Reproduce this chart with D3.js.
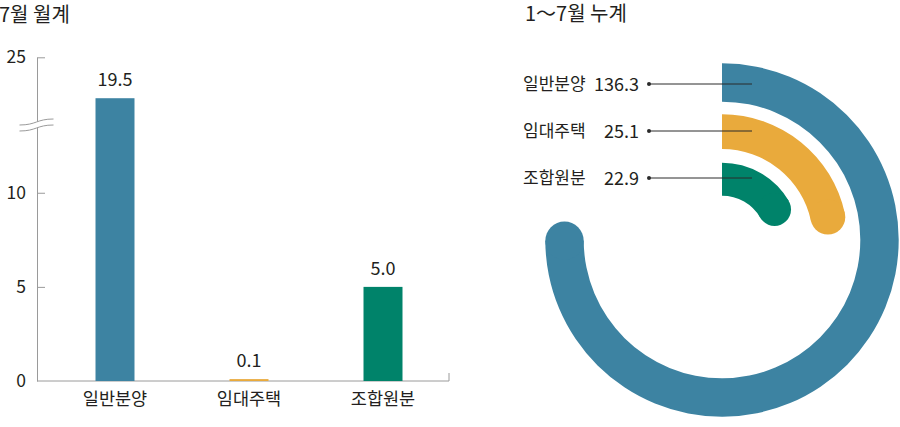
<!DOCTYPE html>
<html>
<head>
<meta charset="UTF-8">
<script src="https://cdnjs.cloudflare.com/ajax/libs/d3/7.8.5/d3.min.js"></script>
<style>
  body { margin: 0; background: #fff; }
  svg text { font-family: "Noto Sans CJK KR", "Noto Sans", sans-serif; fill: #231f20; }
  .axis path, .axis line { stroke: #9a9a9a; }
</style>
</head>
<body>
<svg id="chart" width="900" height="427"></svg>
<script>
// data
var categories = ["일반분양", "임대주택", "조합원분"];
var monthly = [19.5, 0.1, 5.0];       // 7월 월계
var cumulative = [136.3, 25.1, 22.9]; // 1~7월 누계
var yTicks = [0, 5, 10, 25];
var colors = ["#3d83a2", "#e9aa3c", "#00836a"];

var svg = d3.select("#chart");
var fmt = d3.format(".1f");

// ---- left: monthly bars with a broken y axis ----
var x0 = 37, x1 = 449, yBase = 381, yTop = 57.3, yBreakPx = 125;
var yBreak = [13.6, 15.9];

var y = d3.scaleLinear()
  .domain([0, yBreak[0], yBreak[1], 25])
  .range([yBase, yBreakPx, yBreakPx, yTop]);

var x = d3.scaleBand()
  .domain(categories)
  .range([48, 450])
  .paddingInner(0.709)
  .paddingOuter(0.3545);

svg.append("text")
  .attr("x", -1).attr("y", 22)
  .style("font-size", "20px")
  .text("7월 월계");

var yAxis = svg.append("g")
  .attr("class", "axis")
  .attr("transform", "translate(" + x0 + ",0)")
  .call(d3.axisLeft(y).tickValues(yTicks).tickSize(-8).tickSizeOuter(0).tickPadding(11));
yAxis.selectAll(".tick text").style("font-size", "17.5px").style("fill", "#231f20");
yAxis.selectAll(".tick").filter(function(d) { return d === 0; }).select("line").remove();

// x baseline + end tick
svg.append("path")
  .attr("d", "M" + x0 + "," + yBase + "H" + x1 + "V" + (yBase - 8))
  .attr("fill", "none")
  .attr("stroke", "#9a9a9a");

// axis break mark
var brk = svg.append("g").attr("transform", "translate(19.5," + yBreakPx + ")");
brk.append("path")
  .attr("d", "M0,0 C17,0 17,-6 34,-6 L34,0 C17,0 17,6 0,6 Z")
  .attr("fill", "#fff");
[-3, 3].forEach(function(o) {
  brk.append("path")
    .attr("d", "M0," + (o + 3) + " C17," + (o + 3) + " 17," + (o - 3) + " 34," + (o - 3))
    .attr("fill", "none")
    .attr("stroke", "#9a9a9a");
});

svg.selectAll(".bar")
  .data(monthly)
  .enter().append("rect")
  .attr("class", "bar")
  .attr("x", function(d, i) { return x(categories[i]); })
  .attr("width", x.bandwidth())
  .attr("y", function(d) { return y(d); })
  .attr("height", function(d) { return yBase - y(d); })
  .attr("fill", function(d, i) { return colors[i]; });

svg.selectAll(".val")
  .data(monthly)
  .enter().append("text")
  .attr("class", "val")
  .attr("x", function(d, i) { return x(categories[i]) + x.bandwidth() / 2; })
  .attr("y", function(d) { return y(d) - 12; })
  .attr("text-anchor", "middle")
  .style("font-size", "18px")
  .text(function(d) { return fmt(d); });

svg.append("g")
  .attr("transform", "translate(0," + yBase + ")")
  .call(d3.axisBottom(x).tickSize(0).tickPadding(12))
  .call(function(g) { g.select(".domain").remove(); })
  .selectAll("text")
  .style("font-size", "17.5px")
  .style("fill", "#231f20");

// ---- right: cumulative radial bars ----
var cx = 722, cy = 240;
var ringInner = [138.3, 91, 44.3];
var ringOuter = [176.7, 125.7, 77.3];

// broken angular scale (degrees)
var angle = d3.scaleLinear()
  .domain([0, 20, 30, 140])
  .range([0, 36, 118, 275]);
var rad = function(v) { return angle(v) * Math.PI / 180; };

var row = d3.scalePoint().domain(categories).range([84, 178]);

svg.append("text")
  .attr("x", 525).attr("y", 21)
  .style("font-size", "20px")
  .text("1〜7월 누계");

var rg = svg.append("g").attr("transform", "translate(" + cx + "," + cy + ")");
var arc = d3.arc();

cumulative.forEach(function(v, i) {
  var a = rad(v);
  var mid = (ringInner[i] + ringOuter[i]) / 2;
  rg.append("path")
    .attr("d", arc({ innerRadius: ringInner[i], outerRadius: ringOuter[i], startAngle: 0, endAngle: a }))
    .attr("fill", colors[i]);
  rg.append("circle")
    .attr("cx", mid * Math.sin(a))
    .attr("cy", -mid * Math.cos(a))
    .attr("r", (ringOuter[i] - ringInner[i]) / 2)
    .attr("fill", colors[i]);
});

categories.forEach(function(c, i) {
  var ry = row(c);
  svg.append("line")
    .attr("x1", 649).attr("x2", 752)
    .attr("y1", ry).attr("y2", ry)
    .attr("stroke", "#2a2a2a").attr("stroke-width", 1);
  svg.append("circle")
    .attr("cx", 649).attr("cy", ry).attr("r", 2)
    .attr("fill", "#2a2a2a");
  svg.append("text")
    .attr("x", 523).attr("y", ry).attr("dy", "0.35em")
    .style("font-size", "17px")
    .text(c);
  svg.append("text")
    .attr("x", 639).attr("y", ry).attr("dy", "0.37em")
    .attr("text-anchor", "end")
    .style("font-size", "18px")
    .text(fmt(cumulative[i]));
});
</script>
</body>
</html>
